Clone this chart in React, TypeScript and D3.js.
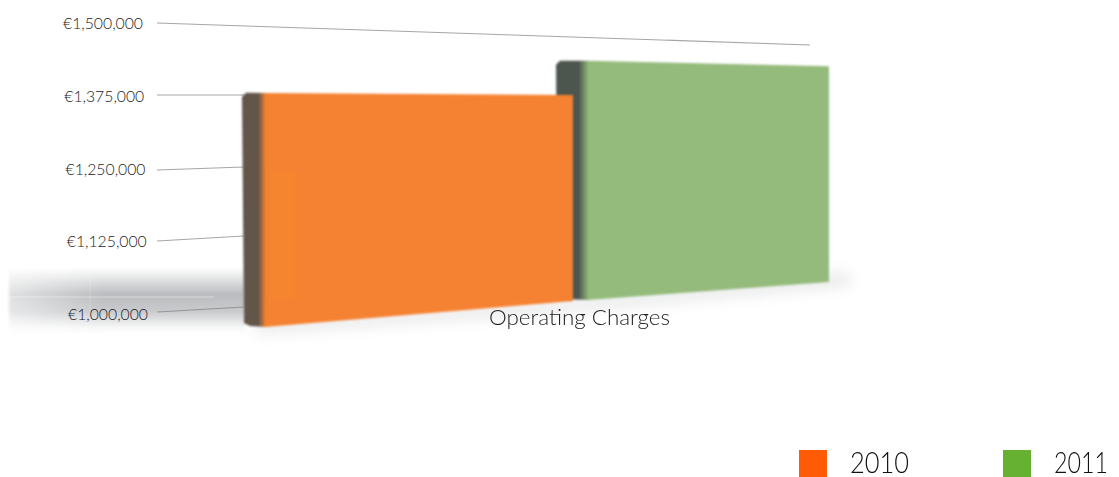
import React from "react";
import * as d3 from "d3";

const tickValues = [1000000, 1125000, 1250000, 1375000, 1500000];
const tickLabels = ["€1,000,000", "€1,125,000", "€1,250,000", "€1,375,000", "€1,500,000"];
const seriesNames = ["2010", "2011"];
const seriesValues = [1380000, 1435000];
const category = "Operating Charges";
const baseValue = 1000000;
const maxValue = 1500000;

// Perspective: each vertical edge of the 3D scene has its own value → pixel scale.
const FONT = "Lato, 'Open Sans', sans-serif";
const axisY = d3.scaleLinear().domain([baseValue, maxValue]).range([314, 23]);
const gridStart = d3.scaleLinear().domain([baseValue, 1125000, 1250000, 1375000, maxValue]).range([314, 241, 170, 95, 23]);
const gridEndLeft = d3.scaleLinear().domain([baseValue, 1125000, 1250000, 1375000, maxValue]).range([307, 236, 167, 95, 23]);
const gridEndRight = d3.scaleLinear().domain([baseValue, maxValue]).range([300, 45]);

const barGeom = [
  { side: 242, frontL: 265, frontR: 573, sideRange: [323, 20], leftRange: [327, 19], rightRange: [301, 30],
    front: "#f58230", sideCol: "#625549" },
  { side: 556, frontL: 588, frontR: 829, sideRange: [300, 25], leftRange: [300, 25], rightRange: [282, 34],
    front: "#94bb7b", sideCol: "#4d5450" },
];
const legendColors = ["#ff5a05", "#66b032"];
const legendX = [799, 1003];
const legendTextX = [850, 1054];
const legendTextW = [59, 54];

const gridLine = d3.line<[number, number]>();

function barPaths(i: number) {
  const g = barGeom[i];
  const v = seriesValues[i];
  const sideY = d3.scaleLinear().domain([baseValue, maxValue]).range(g.sideRange);
  const leftY = d3.scaleLinear().domain([baseValue, maxValue]).range(g.leftRange);
  const rightY = d3.scaleLinear().domain([baseValue, maxValue]).range(g.rightRange);
  const front = gridLine([
    [g.frontL, leftY(v)],
    [g.frontR, rightY(v)],
    [g.frontR, rightY(baseValue)],
    [g.frontL, leftY(baseValue)],
  ])! + "Z";
  const side = gridLine([
    [g.side + 4, sideY(v)],
    [g.frontL + 1, leftY(v)],
    [g.frontL + 1, leftY(baseValue)],
    [g.side + 8, leftY(baseValue) - 1],
    [g.side + 2, sideY(baseValue)],
    [g.side, sideY(v) + 4],
  ])! + "Z";
  return { front, side };
}

export default function App() {
  return (
    <svg width={1119} height={477} style={{ position: "absolute", left: 0, top: 0, background: "#fff" }}>
      <defs>
        <filter id="soft" x="-5%" y="-5%" width="110%" height="110%"><feGaussianBlur stdDeviation="0.9" /></filter>
        <filter id="line" filterUnits="userSpaceOnUse" x="140" y="0" width="700" height="340"><feGaussianBlur stdDeviation="0.7" /></filter>
        <filter id="floorBlur" x="-5%" y="-20%" width="110%" height="140%"><feGaussianBlur stdDeviation="1.5" /></filter>
        <filter id="shadow" x="-20%" y="-60%" width="140%" height="220%"><feGaussianBlur stdDeviation="7" /></filter>
        <linearGradient id="floor" x1="0" x2="0" y1="0" y2="1">
          <stop offset="0" stopColor="#b6b8bb" stopOpacity="0" />
          <stop offset="0.4" stopColor="#b6b8bb" stopOpacity="0.95" />
          <stop offset="0.66" stopColor="#bbbdc0" stopOpacity="0.8" />
          <stop offset="0.9" stopColor="#bbbdc0" stopOpacity="0.12" />
          <stop offset="1" stopColor="#bbbdc0" stopOpacity="0" />
        </linearGradient>
        <linearGradient id="floorFade" x1="0" x2="1" y1="0" y2="0">
          <stop offset="0" stopColor="#fff" stopOpacity="0.55" />
          <stop offset="0.4" stopColor="#fff" stopOpacity="0" />
        </linearGradient>
        {barGeom.map((g, i) => (
          <linearGradient key={i} id={`side${i}`} x1="0" x2="1" y1="0" y2="0">
            <stop offset="0" stopColor={g.sideCol} />
            <stop offset="0.68" stopColor={g.sideCol} />
            <stop offset="1" stopColor={g.front} />
          </linearGradient>
        ))}
      </defs>

      {/* floor shadow */}
      <g filter="url(#floorBlur)">
        <rect x={9} y={268} width={236} height={66} fill="url(#floor)" />
        <rect x={9} y={268} width={236} height={66} fill="url(#floorFade)" />
      </g>
      <line x1={9} x2={214} y1={297} y2={297} stroke="#fff" strokeOpacity={0.4} />
      <line x1={90} x2={90} y1={280} y2={312} stroke="#fff" strokeOpacity={0.2} />
      <path d={gridLine([[250, 322], [575, 300], [850, 272], [850, 286], [575, 312], [260, 334]])! + "Z"}
        fill="#b8babd" opacity={0.3} filter="url(#shadow)" />

      {/* gridlines */}
      <g filter="url(#line)">
        {tickValues.map((t) => (
          <path key={t}
            d={gridLine(t === maxValue
              ? [[157, gridStart(t)], [810, gridEndRight(t)]]
              : [[157, gridStart(t) - (t === baseValue ? 2 : 0)], [244, gridEndLeft(t)]])!}
            fill="none" stroke="#808080" strokeWidth={1.1} opacity={0.7} />
        ))}
      </g>

      {/* axis labels */}
      {tickValues.map((t, i) => (
        <text key={t} x={148 - i * 1.25} y={axisY(t) + 6} textAnchor="end"
          fontFamily={FONT} fontWeight={300} fontSize={15} fill="#222"
          textLength={80} lengthAdjust="spacingAndGlyphs">{tickLabels[i]}</text>
      ))}

      {/* bars: 2011 behind 2010 */}
      {[1, 0].map((i) => {
        const p = barPaths(i);
        return (
          <g key={i} filter="url(#soft)">
            <path d={p.side} fill={`url(#side${i})`} />
            <path d={p.front} fill={barGeom[i].front} />
          </g>
        );
      })}
      <rect x={271} y={172} width={24} height={126} fill="#f78a2c" opacity={0.45} filter="url(#soft)" />

      {/* category label */}
      <text x={489} y={325} fontFamily={FONT} fontWeight={300} fontSize={21} fill="#222"
        textLength={181} lengthAdjust="spacingAndGlyphs">{category}</text>

      {/* legend */}
      {seriesNames.map((n, i) => (
        <g key={n}>
          <rect x={legendX[i]} y={450} width={28} height={27} fill={legendColors[i]} />
          <text x={legendTextX[i]} y={473} fontFamily={FONT} fontWeight={300} fontSize={30} fill="#111"
            textLength={legendTextW[i]} lengthAdjust="spacingAndGlyphs">{n}</text>
        </g>
      ))}
    </svg>
  );
}
